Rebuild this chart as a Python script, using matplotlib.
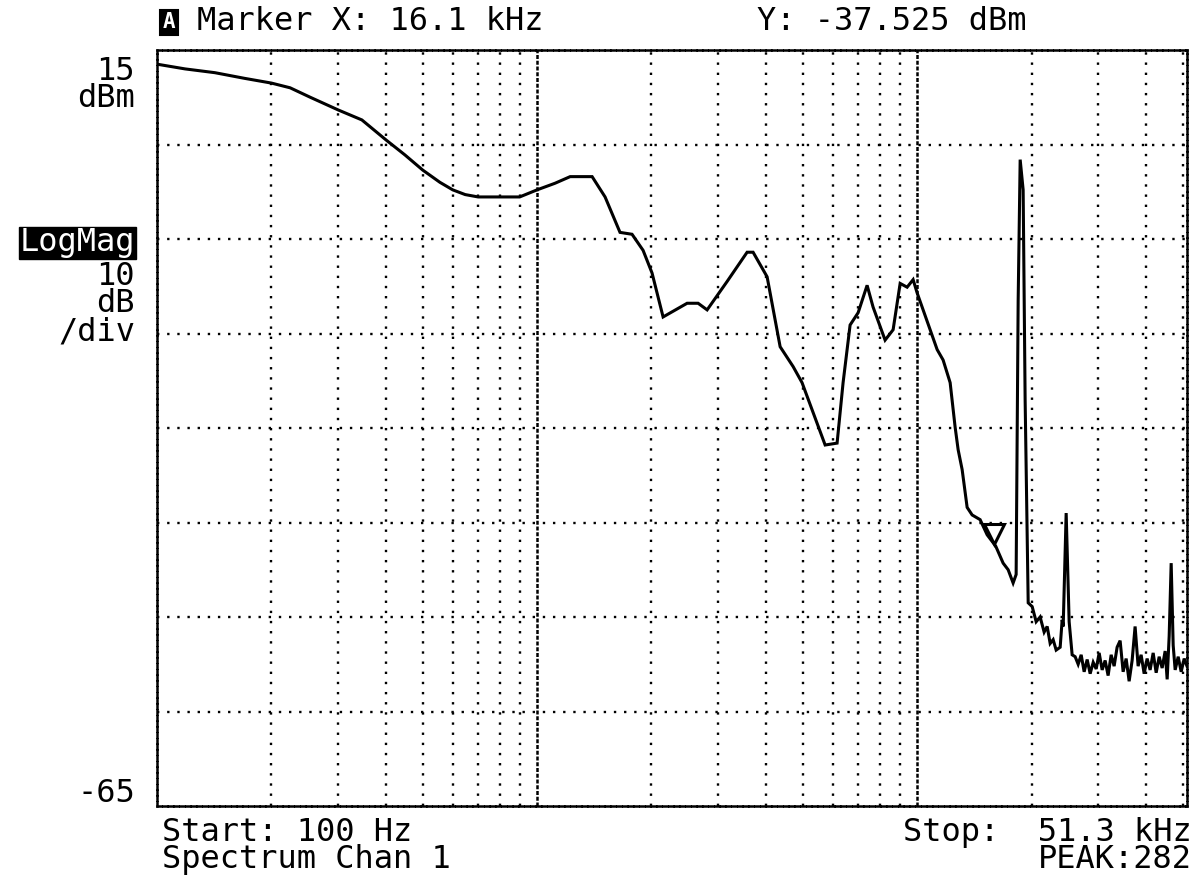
import matplotlib
matplotlib.use("Agg")
import matplotlib.pyplot as plt
import matplotlib.transforms as mtrans

# ---------------- data ----------------
freq_hz = [100, 118.5, 142, 170, 200, 224, 253, 300, 346, 400, 449, 500, 555, 600, 647, 700,
           900, 1000, 1115, 1222, 1396, 1510, 1653, 1778, 1901, 2007, 2146, 2482, 2653, 2802,
           3162, 3570, 3702, 4030, 4361, 4718, 4980, 5728, 6158, 6386, 6663, 6995, 7386, 7658,
           8237, 8647, 9023, 9412, 9761, 10000, 11290, 11705, 12215, 12589, 12822, 13136,
           13540, 13955, 14650, 15283, 16100, 16840, 17360, 17890, 18220, 18445, 18670, 19010,
           19240, 19600, 20080, 20570, 21070, 21590, 21990, 22390, 22800, 23220, 23790, 24080,
           24230, 24670, 25120, 25580, 26050,
           26530, 27020, 27510, 28020, 28530, 29060, 29590, 30130, 30680, 31240, 31810, 32400,
           32990, 33590, 34210, 34840, 35480, 36130, 36790, 37460, 38150, 38850, 39570, 40290,
           41030, 41790, 42560, 43340, 44130, 44940, 45490, 46050, 46610, 47180, 47750, 48630,
           49520, 50430, 51300]
level_dbm = [13.5, 13.0, 12.6, 12.0, 11.5, 11.0, 10.0, 8.65, 7.6, 5.5, 3.9, 2.3, 1.0, 0.2, -0.3, -0.55,
             -0.55, 0.2, 0.9, 1.6, 1.6, -0.55, -4.3, -4.5, -6.2, -8.6, -13.25, -11.8, -11.8, -12.5,
             -9.5, -6.4, -6.4, -9.0, -16.4, -18.5, -20.2, -26.8, -26.6, -20.2, -14.1, -12.8, -9.9, -12.2,
             -15.7, -14.6, -9.7, -10.1, -9.3, -10.7, -16.7, -17.8, -20.2, -24.9, -27.3, -29.4,
             -33.4, -34.2, -34.7, -36.3, -37.5, -39.3, -40.0, -41.4, -40.5, -11.5, 3.4, 0.2,
             -22.0, -43.5, -43.9, -45.5, -45.0, -46.6, -46.0, -47.8, -47.4, -48.5, -48.2, -45.3,
             -46.0, -34.0, -45.5, -49.0, -49.2,
             -50.0, -49.0, -50.8, -49.5, -51.0, -49.8, -50.5, -48.8, -50.6, -49.6, -51.2, -49.0,
             -50.2, -48.2, -47.5, -50.8, -49.4, -51.8, -49.6, -46.0, -50.2, -49.0, -51.0, -49.4,
             -50.6, -48.8, -50.9, -49.2, -50.4, -48.6, -51.6, -47.0, -39.3, -48.0, -50.6, -49.2,
             -50.8, -49.4, -50.2]

x_start_hz = 100
x_stop_hz = 51300
y_top = 15
y_bottom = -65
y_div = 10
minor_grid_hz = [200, 300, 400, 500, 600, 700, 800, 900,
                 2000, 3000, 4000, 5000, 6000, 7000, 8000, 9000,
                 20000, 30000, 40000, 50000]
decade_grid_hz = [1000, 10000]
marker_hz = 16100
marker_dbm = -37.525

# ---------------- figure ----------------
mono = "DejaVu Sans Mono"
fig = plt.figure(figsize=(11.96, 8.83), dpi=100)
ax = fig.add_axes([157 / 1196, 1 - 806 / 883, 1030 / 1196, 756 / 883])
ax.set_xscale("log")
ax.set_xlim(x_start_hz, x_stop_hz)
ax.set_ylim(y_bottom, y_top)
ax.set_xticks([])
ax.set_yticks([])
ax.minorticks_off()

dot = (0, (1, 3.3))
dense = (0, (1.6, 0.7))
for f in minor_grid_hz:
    ax.axvline(f, color="black", lw=1.7, ls=dot, zorder=1)
for f in decade_grid_hz:
    ax.axvline(f, color="black", lw=1.8, ls=dense, zorder=1)
for v in range(y_bottom + y_div, y_top, y_div):
    ax.axhline(v, color="black", lw=1.7, ls=dot, zorder=1)
for sp in ax.spines.values():
    sp.set_linestyle(dense)
    sp.set_linewidth(1.8)
    sp.set_color("black")

ax.plot(freq_hz, level_dbm, color="black", lw=2.2, zorder=3, solid_joinstyle="miter")

# marker triangle (tip at marker point)
tr = mtrans.offset_copy(ax.transData, fig=fig, x=-1, y=9, units="points")
ax.plot([marker_hz], [marker_dbm], transform=tr, marker="v", ms=14, mfc="white",
        mec="black", mew=2.2, zorder=4, clip_on=False)

# ---------------- texts ----------------
fs = 23
kw = dict(family=mono, fontsize=fs, va="center")
fig.text(169 / 1196, 1 - 22 / 883, "A", family=mono, fontsize=15, fontweight="bold",
         color="white", ha="center", va="center",
         bbox=dict(boxstyle="square,pad=0.12", fc="black", ec="black", lw=1.5))
fig.text(197 / 1196, 1 - 22 / 883, "Marker X: 16.1 kHz", ha="left", **kw)
fig.text(757 / 1196, 1 - 22 / 883, "Y: -37.525 dBm", ha="left", **kw)

rx = 135 / 1196
fig.text(rx, 1 - 85 / 883, "15\ndBm", ha="right", multialignment="right",
         linespacing=0.85, **kw)
fig.text(rx, 1 - 243 / 883, "LogMag", ha="right", color="white",
         bbox=dict(boxstyle="square,pad=0.02", fc="black", ec="black"), **kw)
fig.text(rx, 1 - 304 / 883, "10\ndB\n/div", ha="right", multialignment="right",
         linespacing=0.86, **kw)
fig.text(rx, 1 - 793 / 883, "-65", ha="right", **kw)

fig.text(162 / 1196, 1 - 846 / 883, "Start: 100 Hz\nSpectrum Chan 1", ha="left",
         multialignment="left", linespacing=0.8, **kw)
fig.text(1192 / 1196, 1 - 846 / 883, "Stop:  51.3 kHz\nPEAK:282", ha="right",
         multialignment="right", linespacing=0.8, **kw)

fig.savefig("out.png", dpi=100, facecolor="white")
